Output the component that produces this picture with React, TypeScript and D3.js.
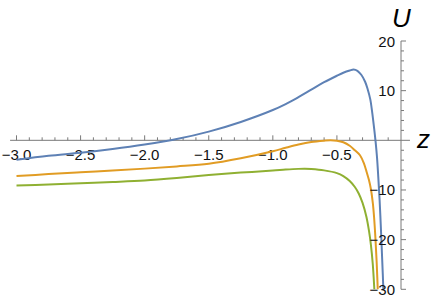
import { useEffect, useRef } from "react";
import * as d3 from "d3";

// curve samples: [z, U]
const blueData: [number, number][] = [
  [-3.0, -3.9], [-2.75, -3.1], [-2.5, -2.5], [-2.25, -1.75], [-2.0, -0.85],
  [-1.75, 0.25], [-1.5, 1.75], [-1.25, 3.7], [-1.0, 6.1], [-0.9, 7.3],
  [-0.8, 8.7], [-0.7, 10.2], [-0.6, 11.7], [-0.5, 13.0], [-0.45, 13.6],
  [-0.4, 14.05], [-0.37, 14.25], [-0.34, 14.0], [-0.31, 13.2], [-0.28, 11.8],
  [-0.26, 10.3], [-0.24, 8.3], [-0.225, 5.7], [-0.21, 2.5], [-0.198, -0.3],
  [-0.187, -3.5], [-0.177, -7.5], [-0.167, -12], [-0.158, -17], [-0.15, -22],
  [-0.142, -27], [-0.135, -32], [-0.128, -37],
];
const orangeData: [number, number][] = [
  [-3.0, -7.2], [-2.75, -6.8], [-2.5, -6.45], [-2.25, -6.1], [-2.0, -5.7],
  [-1.75, -5.25], [-1.5, -4.7], [-1.25, -3.6], [-1.0, -2.2], [-0.9, -1.5],
  [-0.8, -0.85], [-0.7, -0.35], [-0.6, -0.08], [-0.55, 0.0], [-0.5, -0.08],
  [-0.45, -0.4], [-0.4, -1.1], [-0.36, -2.0], [-0.32, -3.0], [-0.29, -4.6],
  [-0.27, -6.2], [-0.25, -8.0], [-0.235, -9.8], [-0.22, -12.6], [-0.21, -15.5],
  [-0.2, -19.5], [-0.19, -24.5], [-0.18, -31], [-0.173, -36],
];
const greenData: [number, number][] = [
  [-3.0, -9.1], [-2.75, -8.9], [-2.5, -8.65], [-2.25, -8.4], [-2.0, -8.1],
  [-1.75, -7.6], [-1.5, -7.0], [-1.25, -6.5], [-1.0, -6.1], [-0.9, -5.9],
  [-0.8, -5.75], [-0.75, -5.72], [-0.7, -5.78], [-0.6, -6.05], [-0.5, -6.6],
  [-0.45, -7.2], [-0.4, -8.2], [-0.36, -9.4], [-0.33, -10.7], [-0.3, -12.6],
  [-0.27, -15.4], [-0.25, -18.2], [-0.235, -21], [-0.22, -25], [-0.208, -30],
  [-0.2, -34],
];

const xMajor = [-3.0, -2.5, -2.0, -1.5, -1.0, -0.5];
const xMajorLabels = ["\u22123.0", "\u22122.5", "\u22122.0", "\u22121.5", "\u22121.0", "\u22120.5"];
const yMajor = [20, 10, -10, -20, -30];
const yMajorLabels = ["20", "10", "\u221210", "\u221220", "\u221230"];

const series = [
  { data: blueData, color: "#5e81b5" },
  { data: orangeData, color: "#e19c24" },
  { data: greenData, color: "#8fb032" },
];

const App = () => {
  const ref = useRef<SVGSVGElement>(null);

  useEffect(() => {
    const svg = d3.select(ref.current);
    svg.selectAll("*").remove();

    const x = d3.scaleLinear().domain([-3, 0]).range([16.5, 401]);
    const y = d3.scaleLinear().domain([-30, 20]).range([289.3, 41]);
    const font = "'Liberation Sans', Arial, sans-serif";
    const axisColor = "#7a7a7a";

    svg
      .append("defs")
      .append("clipPath")
      .attr("id", "plotclip")
      .append("rect")
      .attr("x", 0)
      .attr("y", y(20))
      .attr("width", 436)
      .attr("height", y(-30) - y(20));

    // x axis
    const gx = svg.append("g");
    gx.append("line")
      .attr("x1", x(-3.05))
      .attr("x2", x(0.07))
      .attr("y1", y(0))
      .attr("y2", y(0))
      .attr("stroke", axisColor);
    const xMinor = d3.range(-30, 0).map((d) => d / 10).filter((d) => !xMajor.some((m) => Math.abs(m - d) < 1e-6));
    gx.selectAll(".xminor")
      .data(xMinor)
      .enter()
      .append("line")
      .attr("x1", (d) => x(d))
      .attr("x2", (d) => x(d))
      .attr("y1", y(0))
      .attr("y2", y(0) - 3)
      .attr("stroke", axisColor);
    gx.selectAll(".xmajor")
      .data(xMajor)
      .enter()
      .append("line")
      .attr("x1", (d) => x(d))
      .attr("x2", (d) => x(d))
      .attr("y1", y(0))
      .attr("y2", y(0) - 5)
      .attr("stroke", axisColor);
    gx.selectAll(".xlabel")
      .data(xMajor)
      .enter()
      .append("text")
      .attr("x", (d) => x(d))
      .attr("y", y(0) + 20)
      .attr("text-anchor", "middle")
      .attr("font-family", font)
      .attr("font-size", 15)
      .attr("fill", "#111")
      .text((d, i) => xMajorLabels[i]);

    // y axis
    const gy = svg.append("g");
    gy.append("line")
      .attr("x1", x(0))
      .attr("x2", x(0))
      .attr("y1", y(20))
      .attr("y2", y(-30))
      .attr("stroke", axisColor);
    const yMinor = d3.range(-30, 21, 2).filter((d) => d % 10 !== 0);
    gy.selectAll(".yminor")
      .data(yMinor)
      .enter()
      .append("line")
      .attr("x1", x(0))
      .attr("x2", x(0) + 3)
      .attr("y1", (d) => y(d))
      .attr("y2", (d) => y(d))
      .attr("stroke", axisColor);
    gy.selectAll(".ymajor")
      .data(yMajor)
      .enter()
      .append("line")
      .attr("x1", x(0))
      .attr("x2", x(0) + 5)
      .attr("y1", (d) => y(d))
      .attr("y2", (d) => y(d))
      .attr("stroke", axisColor);

    // curves
    const line = d3
      .line<[number, number]>()
      .x((d) => x(d[0]))
      .y((d) => y(d[1]))
      .curve(d3.curveCatmullRom.alpha(0.5));
    svg
      .append("g")
      .attr("clip-path", "url(#plotclip)")
      .selectAll("path")
      .data(series)
      .enter()
      .append("path")
      .attr("d", (s) => line(s.data) || "")
      .attr("fill", "none")
      .attr("stroke", (s) => s.color)
      .attr("stroke-width", 2);

    // y labels drawn over the curves
    svg
      .append("g")
      .selectAll("text")
      .data(yMajor)
      .enter()
      .append("text")
      .attr("x", x(0) - 6)
      .attr("y", (d) => y(d) + 5.5)
      .attr("text-anchor", "end")
      .attr("font-family", font)
      .attr("font-size", 15)
      .attr("fill", "#111")
      .text((d, i) => yMajorLabels[i]);

    // axis names
    svg
      .append("text")
      .attr("x", 417)
      .attr("y", y(0) + 8)
      .attr("font-family", font)
      .attr("font-style", "italic")
      .attr("font-size", 26)
      .attr("fill", "#000")
      .text("z");
    svg
      .append("text")
      .attr("x", 392)
      .attr("y", 27)
      .attr("font-family", font)
      .attr("font-style", "italic")
      .attr("font-size", 26)
      .attr("fill", "#000")
      .text("U");
  }, []);

  return (
    <svg
      ref={ref}
      width={436}
      height={299}
      style={{ position: "absolute", left: 0, top: 0, background: "#fff" }}
    />
  );
};

export default App;
